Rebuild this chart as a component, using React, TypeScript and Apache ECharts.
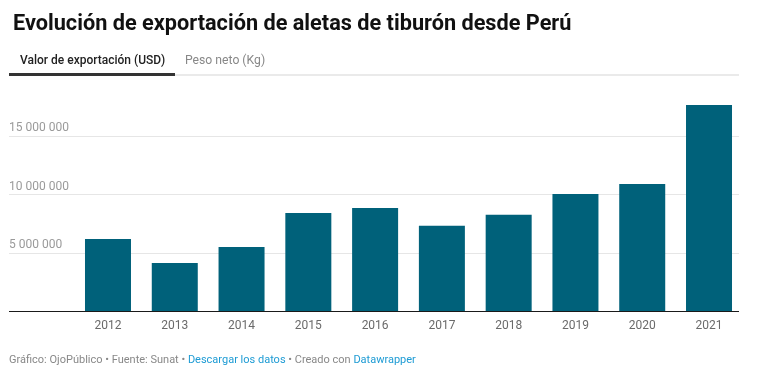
import React, { useEffect, useRef } from "react";
import * as echarts from "echarts";

const years = ["2012", "2013", "2014", "2015", "2016", "2017", "2018", "2019", "2020", "2021"];
const exportValues = [6180000, 4120000, 5490000, 8410000, 8840000, 7320000, 8270000, 10040000, 10900000, 17680000];
const yTicks = [0, 5000000, 10000000, 15000000];

const fmt = (v: number) => String(Math.round(v)).replace(/\B(?=(\d{3})+(?!\d))/g, " ");

export default function App() {
  const ref = useRef<HTMLDivElement>(null);
  useEffect(() => {
    if (!ref.current) return;
    const chart = echarts.init(ref.current, null, { renderer: "svg" });
    const font = "Roboto, 'Noto Sans', sans-serif";
    const yMax = 18000000;
    const top = 101.3;
    const bottom = 70;
    chart.setOption({
      animation: false,
      textStyle: { fontFamily: font },
      title: {
        text: "Evolución de exportación de aletas de tiburón desde Perú",
        left: 8,
        top: 6,
        textStyle: { fontFamily: font, fontSize: 21.7, fontWeight: "bold", color: "#111" },
      },
      graphic: [
        {
          type: "text",
          left: 20,
          top: 54,
          style: { text: "Valor de exportación (USD)", font: `500 12px ${font}`, fill: "#222" },
        },
        {
          type: "text",
          left: 185,
          top: 54,
          style: { text: "Peso neto (Kg)", font: `12.2px ${font}`, fill: "#888" },
        },
        { type: "rect", shape: { x: 175, y: 74.5, width: 564, height: 1 }, style: { fill: "#d6d6d6" } },
        { type: "rect", shape: { x: 9, y: 73, width: 166, height: 3 }, style: { fill: "#333" } },
        {
          type: "text",
          left: 9,
          top: 354,
          style: {
            text: "{g|Gráfico: OjoPúblico • Fuente: Sunat • }{l|Descargar los datos}{g| • Creado con }{l|Datawrapper}",
            font: `11px ${font}`,
            rich: {
              g: { fill: "#888", fontSize: 11, fontFamily: font },
              l: { fill: "#1d9bd4", fontSize: 11, fontFamily: font },
            },
          },
        },
      ],
      grid: [
        { left: 9, right: 27, top, bottom, containLabel: false },
        { left: 74.6, right: 23.6, top, bottom, containLabel: false },
      ],
      xAxis: [
        { type: "value", gridIndex: 0, show: false, min: 0, max: 1 },
        {
          type: "category",
          gridIndex: 1,
          data: years,
          axisLine: { show: false },
          axisTick: { show: false },
          axisLabel: { color: "#6a6a6a", fontSize: 12, margin: 8, fontFamily: font },
        },
      ],
      yAxis: [
        {
          type: "value",
          gridIndex: 0,
          min: 0,
          max: yMax,
          interval: 5000000,
          axisLine: { show: false },
          axisTick: { show: false },
          splitLine: { show: true, showMaxLine: false, lineStyle: { color: "#e6e6e6", width: 1 } },
          axisLabel: {
            inside: true,
            margin: 0,
            showMaxLabel: false,
            verticalAlign: "bottom",
            padding: [0, 0, 3, 0],
            color: "#9a9a9a",
            fontSize: 12,
            fontFamily: font,
            formatter: (v: number) => (yTicks.includes(v) && v > 0 ? fmt(v) : ""),
          },
        },
        { type: "value", gridIndex: 1, min: 0, max: yMax, show: false },
      ],
      series: [
        {
          type: "bar",
          xAxisIndex: 1,
          yAxisIndex: 1,
          data: exportValues,
          barWidth: 46,
          itemStyle: { color: "#00617a" },
          z: 3,
        },
        {
          type: "line",
          xAxisIndex: 0,
          yAxisIndex: 0,
          data: [],
          markLine: {
            silent: true,
            symbol: "none",
            label: { show: false },
            lineStyle: { color: "#1a1a1a", width: 1, type: "solid" },
            data: [[{ coord: [0, 0] }, { coord: [1, 0] }]],
          },
        },
      ],
    });
    return () => chart.dispose();
  }, []);
  return <div ref={ref} style={{ position: "fixed", left: 0, top: 0, width: 766, height: 381 }} />;
}
